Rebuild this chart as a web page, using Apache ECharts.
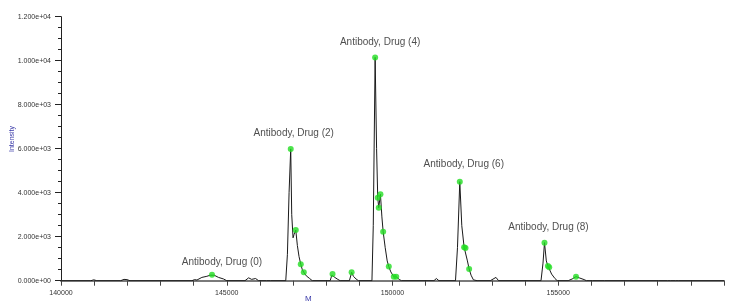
<!DOCTYPE html>
<html>
<head>
<meta charset="utf-8">
<script src="https://cdn.jsdelivr.net/npm/echarts@6/dist/echarts.min.js"></script>
<style>html,body{margin:0;padding:0;background:#fff;}#c{width:750px;height:307px;}</style>
</head>
<body>
<div id="c"></div>
<script>
// Spectrum (deconvoluted mass, intensity)
var specMass = [140000,140900,140990,141080,141800,141900,141990,142080,143950,144030,144100,144250,144400,144500,144555,144620,144750,144900,145000,
145550,145660,145750,145870,145960,146200,146250,146320,146780,146830,146880,146930,146960,147000,147030,147082,147130,147180,147233,147280,147324,147400,147500,147580,
148120,148170,148191,148260,148350,148420,148700,148750,148767,148820,148900,148970,149380,149420,149476,149520,149555,149585,149636,149680,149718,149780,149840,149888,149950,150039,150112,150200,150270,
151250,151324,151400,151900,151960,152030,152090,152161,152203,152260,152312,152370,152440,152550,152950,153000,153121,153200,
154480,154540,154585,154640,154688,154727,154800,154900,154970,155300,155420,155536,155650,155780,155850,155930,155970,156030,156320,156355,156400,
157950,157991,158030,158300,158333,158380,158540,158576,158620,160000];
var specIntensity = [0,0,40,0,0,60,50,0,0,50,30,150,200,250,270,250,150,80,0,
0,130,60,100,0,0,50,0,0,1200,4000,5990,3000,1950,2100,2300,1600,1100,745,500,380,220,100,0,
0,250,305,150,60,0,0,280,382,200,80,0,0,2500,10150,6000,3770,3320,3930,2900,2230,1500,900,640,400,180,180,60,0,
0,100,0,0,1500,4500,2500,1520,1490,900,530,250,40,0,0,60,150,0,
0,800,1730,900,670,610,300,100,0,0,80,185,120,50,0,0,80,0,0,40,0,
0,30,0,0,30,0,0,40,0,0];

// Detected peak markers (green dots)
var dotMass = [144555,146930,147082,147233,147324,148191,148767,149476,149555,149585,149636,149718,149888,150039,150112,152030,152161,152203,152312,154585,154688,154727,155536];
var dotIntensity = [270,5990,2300,745,380,305,382,10150,3770,3320,3930,2230,640,180,180,4500,1520,1490,530,1730,670,610,185];

// Annotated species
var peakNames = ['Antibody, Drug (0)','Antibody, Drug (2)','Antibody, Drug (4)','Antibody, Drug (6)','Antibody, Drug (8)'];
var peakMass = [144555,146930,149476,152030,154585];
var peakIntensity = [270,5990,10150,4500,1730];

// Axis tick labels
var xTickLabels = [140000,145000,150000,155000];
var yTickLabels = [0,2000,4000,6000,8000,10000,12000];

function sci(v){
  if(v===0) return '0.000e+00';
  var e = Math.floor(Math.log10(v));
  var m = v/Math.pow(10,e);
  return m.toFixed(3)+'e+'+(e<10?'0':'')+e;
}

var labelOffsets = [[10,-7],[3,-10],[5,-9],[4,-11],[4,-9]];

var chart = echarts.init(document.getElementById('c'), null, {renderer:'canvas'});
chart.setOption({
  animation:false,
  backgroundColor:'#ffffff',
  grid:{left:61,right:26,top:16.7,bottom:26.3},
  xAxis:{
    type:'value', min:140000, max:160000, interval:1000,
    axisLine:{show:true,lineStyle:{color:'#7a7a7a',width:2}},
    axisTick:{show:true,length:5,lineStyle:{color:'#444'}},
    splitLine:{show:false},
    axisLabel:{
      margin:9, fontSize:7, color:'#333', fontFamily:'Liberation Sans',
      formatter:function(v){ return xTickLabels.indexOf(v)>=0 ? String(v) : ''; }
    }
  },
  yAxis:{
    type:'value', min:0, max:12000, interval:2000,
    axisLine:{show:true,lineStyle:{color:'#222',width:1}},
    axisTick:{show:true,length:6,lineStyle:{color:'#222'}},
    minorTick:{show:true,splitNumber:4,length:3,lineStyle:{color:'#222'}},
    splitLine:{show:false},
    axisLabel:{
      margin:10, fontSize:7, color:'#333', fontFamily:'Liberation Sans',
      formatter:function(v){ return yTickLabels.indexOf(v)>=0 ? sci(v) : ''; }
    }
  },
  graphic:[
    {type:'text', left:305, top:295, style:{text:'M', fill:'#3a3aa8', font:'8px "Liberation Sans"'}},
    {type:'text', x:9, y:152, rotation:Math.PI/2, style:{text:'Intensity', fill:'#3a3aa8', font:'7px "Liberation Sans"'}}
  ],
  series:[
    {
      type:'line', name:'spectrum', showSymbol:false, symbol:'none',
      data: specMass.map(function(m,i){return [m, specIntensity[i]];}),
      lineStyle:{color:'#1a1a1a', width:1},
      z:2
    },
    {
      type:'scatter', name:'peaks', symbolSize:6,
      data: dotMass.map(function(m,i){return [m, dotIntensity[i]];}),
      itemStyle:{color:'#22dd22'},
      z:3
    },
    {
      type:'scatter', name:'labels', symbolSize:0, silent:true,
      data: peakMass.map(function(m,i){
        return {value:[m, peakIntensity[i]], name:peakNames[i],
          label:{offset:labelOffsets[i]}};
      }),
      label:{show:true, position:'top', distance:0, formatter:'{b}',
        fontSize:10, lineHeight:12, color:'#222', fontFamily:'Liberation Sans'},
      z:4
    }
  ]
});
</script>
</body>
</html>
